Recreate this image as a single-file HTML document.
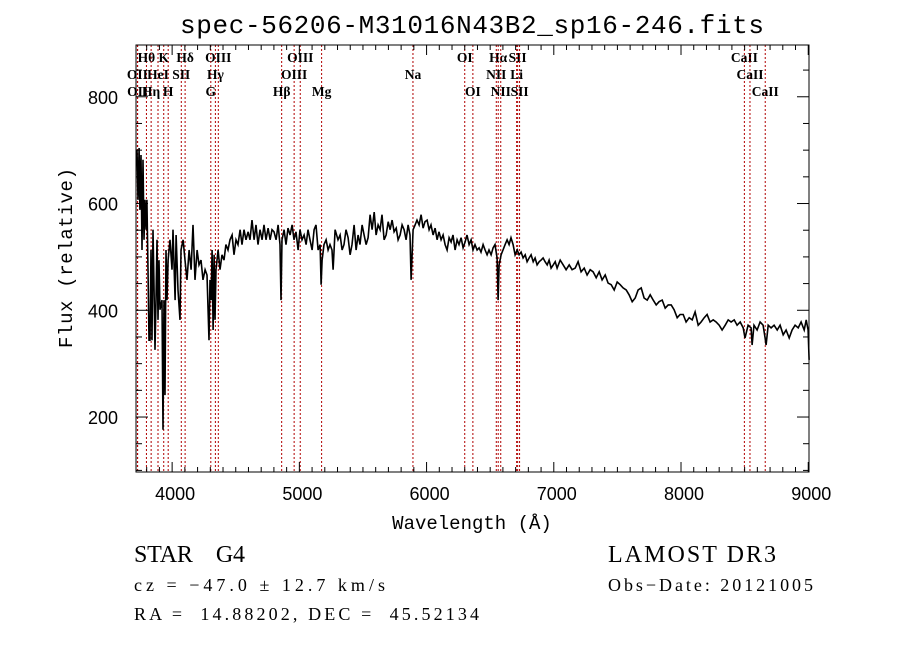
<!DOCTYPE html>
<html><head><meta charset="utf-8"><style>
html,body{margin:0;padding:0;background:#fff;}
svg{display:block;}
text{white-space:pre;}
</style></head><body>
<svg id="chart" width="900" height="649" xmlns="http://www.w3.org/2000/svg">
<text x="472" y="33" text-anchor="middle" font-family="Liberation Mono, monospace" font-size="26" textLength="584">spec-56206-M31016N43B2_sp16-246.fits</text>
<g id="lines"></g>
<g id="spec"></g>
<g id="axes"></g>
<text x="472" y="529" text-anchor="middle" font-family="Liberation Mono, monospace" font-size="19">Wavelength (Å)</text>
<text transform="translate(72,258) rotate(-90)" text-anchor="middle" font-family="Liberation Mono, monospace" font-size="19" textLength="180">Flux (relative)</text>
<text x="134" y="562" font-family="Liberation Serif, serif" font-size="24" textLength="111">STAR    G4</text>
<text x="134" y="591" font-family="Liberation Serif, serif" font-size="18" textLength="251">cz = −47.0 ± 12.7 km/s</text>
<text x="134" y="620" font-family="Liberation Serif, serif" font-size="18" textLength="345">RA =  14.88202, DEC =  45.52134</text>
<text x="608" y="562" font-family="Liberation Serif, serif" font-size="24" textLength="168">LAMOST DR3</text>
<text x="608" y="591" font-family="Liberation Serif, serif" font-size="18" textLength="205">Obs−Date: 20121005</text>
</svg>
<script>
const wave=[3724,3732,3740,3747,3755,3763,3771,3779,3787,3795,3802,3810,3818,3826,3834,3842,3850,3857,3865,3873,3881,3889,3897,3905,3920,3928,3936,3944,3952,3960,3968,3983,3999,4007,4023,4031,4046,4062,4070,4086,4101,4117,4133,4149,4164,4180,4196,4211,4227,4243,4259,4274,4290,4298,4306,4314,4322,4330,4337,4345,4361,4376,4392,4408,4423,4439,4455,4471,4486,4502,4518,4534,4549,4565,4581,4597,4612,4628,4644,4659,4675,4691,4707,4722,4738,4754,4770,4785,4801,4817,4833,4848,4856,4864,4880,4895,4911,4927,4943,4958,4974,4990,5005,5021,5037,5053,5068,5084,5100,5116,5131,5147,5163,5171,5179,5194,5210,5226,5241,5257,5265,5281,5304,5320,5336,5351,5367,5383,5399,5414,5430,5446,5462,5477,5493,5509,5525,5540,5556,5572,5588,5603,5619,5635,5650,5666,5682,5698,5713,5729,5745,5761,5776,5792,5808,5823,5839,5855,5870,5878,5894,5910,5925,5941,5957,5973,5988,6004,6020,6035,6051,6067,6083,6098,6114,6130,6146,6161,6177,6193,6208,6224,6240,6255,6271,6287,6303,6318,6334,6350,6365,6381,6397,6413,6428,6444,6460,6476,6491,6507,6523,6538,6554,6562,6570,6586,6601,6617,6633,6649,6664,6680,6696,6712,6727,6743,6759,6775,6790,6806,6822,6838,6853,6869,6885,6900,6916,6932,6948,6963,6979,6995,7011,7026,7050,7074,7097,7121,7144,7168,7191,7215,7239,7262,7286,7309,7333,7357,7380,7404,7427,7451,7475,7498,7522,7545,7569,7592,7616,7640,7663,7687,7710,7734,7758,7781,7805,7828,7852,7876,7899,7923,7946,7970,7993,8017,8040,8064,8088,8111,8135,8158,8182,8205,8229,8253,8276,8300,8323,8347,8371,8394,8418,8441,8465,8489,8503,8527,8551,8559,8574,8598,8622,8645,8661,8669,8685,8708,8732,8756,8779,8803,8826,8850,8873,8897,8921,8944,8968,8984,8999,9007];
const flux=[701,607,704,588,691,513,682,532,607,551,607,476,344,344,513,344,551,457,326,419,532,382,494,401,419,176,419,241,513,419,494,532,476,551,419,541,438,382,513,532,494,457,513,476,560,457,513,485,494,457,476,466,344,457,419,513,363,504,382,476,513,476,504,494,523,513,532,541,504,532,523,551,523,551,532,547,532,569,532,560,523,551,532,560,532,554,532,551,547,532,560,523,419,532,551,523,554,541,560,532,547,513,551,532,541,523,551,532,513,551,560,513,523,448,494,523,532,513,523,513,476,551,532,541,513,523,551,536,504,523,560,513,541,523,560,541,523,536,579,551,584,541,560,551,579,532,541,566,551,569,547,554,532,541,560,551,532,560,541,457,551,560,569,560,579,554,566,569,551,560,541,554,532,547,532,541,523,513,536,528,541,513,532,523,536,517,528,541,523,532,513,523,513,517,509,523,513,504,513,504,517,523,498,419,485,504,513,523,532,523,536,523,504,513,504,509,498,504,491,498,504,491,498,485,491,494,498,491,485,494,479,485,491,479,494,485,476,485,476,479,491,472,479,466,476,472,461,472,457,466,451,448,438,453,448,442,438,429,416,423,438,442,423,419,429,419,410,416,419,404,410,410,401,386,392,392,378,386,382,397,372,378,386,392,378,382,378,372,363,372,382,378,382,372,378,367,348,372,367,335,372,363,378,372,348,335,372,367,372,363,372,354,363,348,363,372,367,378,363,382,363,307];
const lineWaves=[3798,3934,4102,4363,5007,6300,6563,6716,8498,3727,3889,4072,4340,4959,5893,6548,6708,8542,3729,3835,3969,4304,4861,5175,6364,6583,6731,8662];
const lineLabels=["Hθ","K","Hδ","OIII","OIII","OI","Hα","SII","CaII","OII","HeI","SII","Hγ","OIII","Na","NII","Li","CaII","OII","Hη","H","G","Hβ","Mg","OI","NII","SII","CaII"];
const lineRows=[0,0,0,0,0,0,0,0,0,1,1,1,1,1,1,1,1,1,2,2,2,2,2,2,2,2,2,2];
const xTicks=[4000,5000,6000,7000,8000,9000];
const yTicks=[200,400,600,800];

const X0=136,X1=809,Y0=45,Y1=472,WMIN=3716,WMAX=9006,FMIN=97,FMAX=897;
const sx=w=>X0+(w-WMIN)/(WMAX-WMIN)*(X1-X0);
const sy=f=>Y1-(f-FMIN)/(FMAX-FMIN)*(Y1-Y0);
const NS='http://www.w3.org/2000/svg';
function mk(tag,attrs,parent){const e=document.createElementNS(NS,tag);for(const k in attrs)e.setAttribute(k,attrs[k]);parent.appendChild(e);return e;}

const gl=document.getElementById('lines');
lineWaves.forEach((w,i)=>{
  const x=sx(w);
  const ln=mk('line',{x1:x,x2:x,y1:Y0,y2:Y1,stroke:'#b00000','stroke-width':1,'stroke-dasharray':'2,2'},gl);
  
  
  const t=mk('text',{x:x,y:62+lineRows[i]*17,'text-anchor':'middle','font-family':'Liberation Serif, serif','font-size':13.5,'font-weight':'bold'},gl);
  t.textContent=lineLabels[i];
  
  
});

const gs=document.getElementById('spec');
const pts=wave.map((w,i)=>sx(w).toFixed(1)+','+sy(flux[i]).toFixed(1)).join(' ');
const pl=mk('polyline',{points:pts,fill:'none',stroke:'#000','stroke-width':1.6,'stroke-linejoin':'miter'},gs);



const ga=document.getElementById('axes');
const fr=mk('rect',{x:X0,y:Y0,width:X1-X0,height:Y1-Y0,fill:'none',stroke:'#000','stroke-width':1},ga);


for(let w=3800;w<=9000;w+=100){
  const x=sx(w),big=w%1000===0,L=big?10:5;
  mk('line',{x1:x,x2:x,y1:Y1,y2:Y1-L,stroke:'#000'},ga);
  mk('line',{x1:x,x2:x,y1:Y0,y2:Y0+L,stroke:'#000'},ga);
}
xTicks.forEach(w=>{
  const t=mk('text',{x:sx(w)+3,y:Y1+28,'text-anchor':'middle','font-family':'Liberation Sans, sans-serif','font-size':18},ga);
  t.textContent=w;
  
  
});
for(let f=100;f<=850;f+=50){
  const y=sy(f),big=f%200===0,L=big?12:6;
  mk('line',{x1:X0,x2:X0+L,y1:y,y2:y,stroke:'#000'},ga);
  mk('line',{x1:X1,x2:X1-L,y1:y,y2:y,stroke:'#000'},ga);
}
yTicks.forEach(f=>{
  const t=mk('text',{x:X0-18,y:sy(f)+7,'text-anchor':'end','font-family':'Liberation Sans, sans-serif','font-size':18},ga);
  t.textContent=f;
  
  
});
</script>
</body></html>
